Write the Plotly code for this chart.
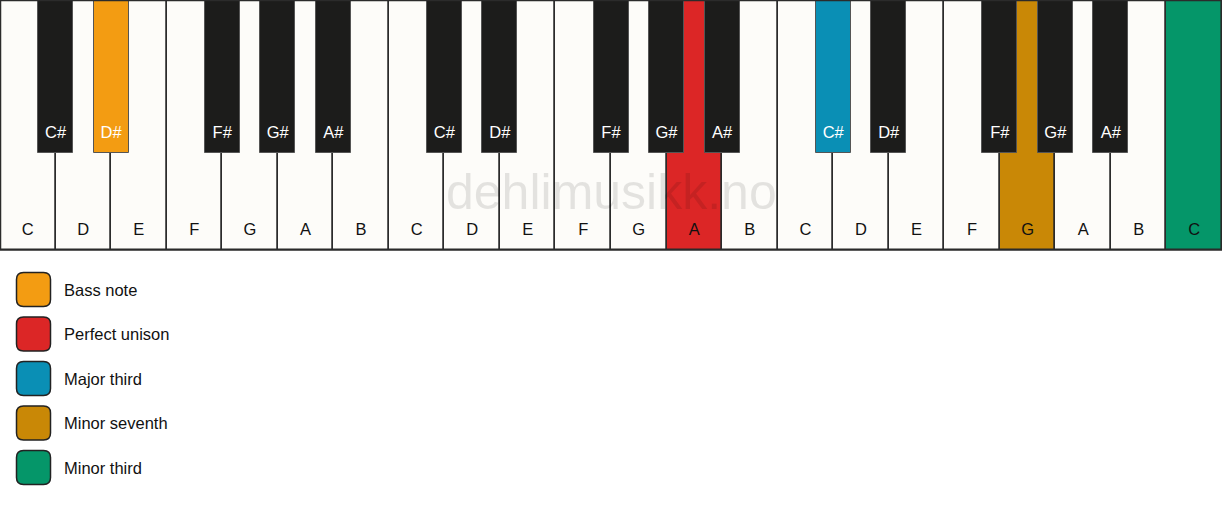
import plotly.graph_objects as go

# ---------------- data ----------------
white_notes = ["C", "D", "E", "F", "G", "A", "B",
               "C", "D", "E", "F", "G", "A", "B",
               "C", "D", "E", "F", "G", "A", "B",
               "C"]
# black key follows these white notes
sharp_after = {"C": "C#", "D": "D#", "F": "F#", "G": "G#", "A": "A#"}

# highlighted keys: (white-key index, is_black, legend label, colour)
highlight_index = [1, 12, 14, 18, 21]
highlight_black = [True, False, True, False, False]
legend_labels = ["Bass note", "Perfect unison", "Major third", "Minor seventh", "Minor third"]
legend_colors = ["#f39c12", "#dc2626", "#0a8fb5", "#c98806", "#059669"]
watermark = "dehlimusikk.no"

# ---------------- geometry / style ----------------
W, H = 1222, 506
n_white = len(white_notes)
kw = W / n_white
white_h = 250
black_h = 153
black_w = 35
WHITE = "#fdfcf9"
BLACK = "#1c1c1b"
FONT = "Arial, Liberation Sans, sans-serif"

hl_white = {}
hl_black = {}
for idx, blk, lab, col in zip(highlight_index, highlight_black, legend_labels, legend_colors):
    (hl_black if blk else hl_white)[idx] = col

# white keys
wx = [(i + 0.5) * kw for i in range(n_white)]
wcol = [hl_white.get(i, WHITE) for i in range(n_white)]

# black keys
bx, blab, bcol = [], [], []
for i, n in enumerate(white_notes[:-1]):
    if n in sharp_after:
        bx.append((i + 1) * kw)
        blab.append(sharp_after[n])
        bcol.append(hl_black.get(i, BLACK))

fig = go.Figure()
fig.add_trace(go.Bar(
    x=wx, y=[white_h] * n_white, base=0, width=kw,
    marker=dict(color=wcol, line=dict(color="#2b2b2b", width=1.5)),
    hoverinfo="skip", showlegend=False))
fig.add_trace(go.Bar(
    x=bx, y=[black_h] * len(bx), base=0, width=black_w,
    marker=dict(color=bcol, line=dict(color="#555555", width=1)),
    hoverinfo="skip", showlegend=False))

# labels
fig.add_trace(go.Scatter(
    x=wx, y=[231] * n_white, mode="text", text=white_notes,
    textfont=dict(family=FONT, size=16.5, color="#111111"),
    hoverinfo="skip", showlegend=False))
fig.add_trace(go.Scatter(
    x=bx, y=[134] * len(bx), mode="text", text=blab,
    textfont=dict(family=FONT, size=16.5, color="#ffffff"),
    hoverinfo="skip", showlegend=False))

shapes = []
# outer border
shapes.append(dict(type="rect", xref="x", yref="y", x0=0.5, x1=W - 0.5, y0=0.5, y1=white_h,
                   line=dict(color="#2b2b2b", width=1.5), fillcolor="rgba(0,0,0,0)", layer="above"))


def rrect(x0, y0, x1, y1, r):
    return (f"M{x0+r},{y0} L{x1-r},{y0} Q{x1},{y0} {x1},{y0+r} L{x1},{y1-r} Q{x1},{y1} {x1-r},{y1} "
            f"L{x0+r},{y1} Q{x0},{y1} {x0},{y1-r} L{x0},{y0+r} Q{x0},{y0} {x0+r},{y0} Z")


annotations = []
for k, (lab, col) in enumerate(zip(legend_labels, legend_colors)):
    yc = 289.5 + k * 44.5
    shapes.append(dict(type="path", xref="x", yref="y",
                       path=rrect(16.5, yc - 17, 50.5, yc + 17, 7),
                       fillcolor=col, line=dict(color="#222222", width=1.5)))
    annotations.append(dict(x=62, y=yc, xref="x", yref="y", text=lab, showarrow=False,
                            xanchor="left", yanchor="middle",
                            font=dict(family=FONT, size=16.5, color="#111111")))

annotations.append(dict(x=W / 2, y=192, xref="x", yref="y", text=watermark, showarrow=False,
                        xanchor="center", yanchor="middle",
                        font=dict(family=FONT, size=50, color="rgba(0,0,0,0.10)")))

fig.update_layout(
    width=W, height=H, margin=dict(l=0, r=0, t=0, b=0),
    paper_bgcolor="white", plot_bgcolor="white",
    barmode="overlay", bargap=0,
    xaxis=dict(range=[0, W], visible=False, fixedrange=True),
    yaxis=dict(range=[H, 0], visible=False, fixedrange=True),
    shapes=shapes, annotations=annotations,
)
fig.write_html("out.html", config={"displayModeBar": False},
               post_script="document.body.style.margin='0';document.body.style.overflow='hidden';")
